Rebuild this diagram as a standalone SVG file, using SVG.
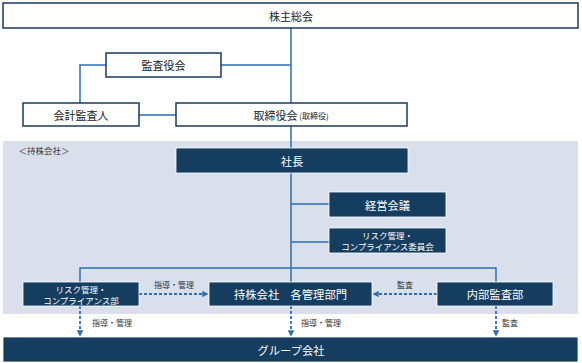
<svg xmlns="http://www.w3.org/2000/svg" width="582" height="363" viewBox="0 0 582 363">
<defs>
<style>
text{font-family:"Noto Sans CJK JP","Noto Sans CJK SC",sans-serif;text-anchor:middle;dominant-baseline:central}
.wb{fill:#fff;stroke:#1a3a5c;stroke-width:1.5}
.db{fill:#143d60;stroke:#fff;stroke-width:0.8}
.wt{fill:#222;font-size:11px}
.dt{fill:#fff;font-size:11.3px}
.st{fill:#fff;font-size:8.5px}
.lb{fill:#333;font-size:8px}
.ln{fill:none;stroke:#2a6db5;stroke-width:1.5}
.dl{fill:none;stroke:#2a6db5;stroke-width:1.8;stroke-dasharray:3,2}
</style>
<marker id="ah" viewBox="0 0 10 10" refX="9" refY="5" markerWidth="3.5" markerHeight="3.5" orient="auto"><path d="M0,0 L10,5 L0,10 z" fill="#2a6db5"/></marker>
</defs>
<rect x="3" y="141" width="575" height="173" fill="#d9e0ec"/>
<text x="44" y="150" class="lb" style="font-size:8.5px">＜持株会社＞</text>
<g id="connectors">
<path class="ln" d="M291,28 V306"/>
<path class="ln" d="M221,65 H291"/>
<path class="ln" d="M106,65 H80 V103"/>
<path class="ln" d="M139,115 H176"/>
<path class="ln" d="M291,204 H329"/>
<path class="ln" d="M291,242 H329"/>
<path class="ln" d="M80,282 V268 H496 V282"/>
<path class="dl" d="M139,294 H208" marker-end="url(#ah)"/>
<path class="dl" d="M437,294 H373" marker-end="url(#ah)"/>
<path class="dl" d="M80,306 V336" marker-end="url(#ah)"/>
<path class="dl" d="M291,306 V336" marker-end="url(#ah)"/>
<path class="dl" d="M496,306 V336" marker-end="url(#ah)"/>
<text x="174" y="284" class="lb">指導・管理</text>
<text x="405" y="284" class="lb">監査</text>
<text x="112" y="322" class="lb">指導・管理</text>
<text x="321" y="322" class="lb">指導・管理</text>
<text x="510" y="322" class="lb">監査</text>
</g>
<g id="shareholders"><rect class="wb" x="3" y="3" width="575" height="25"/><text x="291" y="16" class="wt">株主総会</text></g>
<g id="auditboard"><rect class="wb" x="106" y="53" width="115" height="24"/><text x="163.5" y="65" class="wt">監査役会</text></g>
<g id="accountant"><rect class="wb" x="23" y="103" width="116" height="23"/><text x="81" y="114.5" class="wt">会計監査人</text></g>
<g id="board"><rect class="wb" x="176" y="103" width="231" height="23"/><text x="291" y="114.5" class="wt"><tspan>取締役会</tspan><tspan style="font-size:8px"> (取締役)</tspan></text></g>
<g id="president"><rect class="db" x="176" y="148" width="232" height="25"/><text x="292" y="160.5" class="dt">社長</text></g>
<g id="mgmt"><rect class="db" x="329" y="192" width="117" height="25"/><text x="387.5" y="204.5" class="dt">経営会議</text></g>
<g id="riskcomm"><rect class="db" x="329" y="228" width="117" height="25"/><text x="387.5" y="235" class="st">リスク管理・</text><text x="387.5" y="246" class="st">コンプライアンス委員会</text></g>
<g id="riskdept"><rect class="db" x="23" y="282" width="116" height="24"/><text x="81" y="288.5" class="st">リスク管理・</text><text x="81" y="299.5" class="st">コンプライアンス部</text></g>
<g id="admin"><rect class="db" x="209" y="282" width="163" height="24"/><text x="290.5" y="294" class="dt">持株会社　各管理部門</text></g>
<g id="internalaudit"><rect class="db" x="437" y="282" width="116" height="24"/><text x="495" y="294" class="dt">内部監査部</text></g>
<g id="group"><rect class="db" x="3" y="337" width="575" height="25"/><text x="291" y="349.5" class="dt">グループ会社</text></g>
</svg>
